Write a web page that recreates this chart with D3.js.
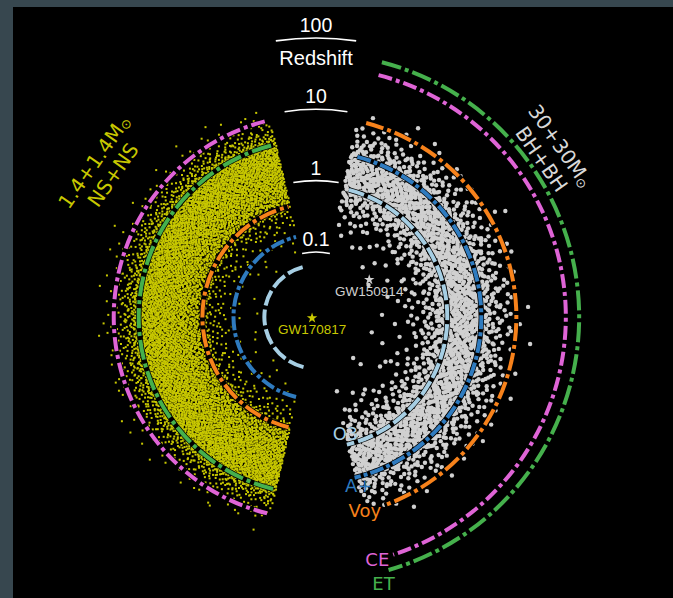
<!DOCTYPE html>
<html>
<head>
<meta charset="utf-8">
<script src="https://cdn.jsdelivr.net/npm/d3@7/dist/d3.min.js"></script>
<style>
  html, body { margin: 0; padding: 0; background: #37474f; }
  svg { display: block; }
</style>
</head>
<body>
<svg id="chart" width="673" height="598"></svg>
<script>
// ---- data -------------------------------------------------------------
// radial axis: redshift ticks
const redshiftTicks = [0.1, 1, 10, 100];
const tickLabels = ["0.1", "1", "10", "100"];

// detector horizons in redshift
const detectors = ["O3", "A+", "Voy", "CE", "ET"];
const horizonBNS = [0.065, 0.176, 0.48, 8.4, 3.75];   // 1.4+1.4 Msun NS+NS
const horizonBBH = [0.85, 2.55, 7.9, 39, 60];         // 30+30 Msun BH+BH

// source populations: redshift bin edges and number of sources per bin
const bnsBinEdges = [0.08, 0.15, 0.25, 0.4, 0.55, 0.8, 1.2, 1.8, 2.6, 3.6, 4.5, 6, 8, 11, 16];
const bnsCounts   = [15, 50, 150, 350, 950, 1400, 1650, 1750, 1500, 700, 420, 190, 70, 25];
const bbhBinEdges = [0.07, 0.15, 0.25, 0.4, 0.6, 0.85, 1.2, 1.7, 2.4, 3.4, 5, 7, 10, 14];
const bbhCounts   = [8, 22, 60, 140, 270, 390, 450, 450, 340, 200, 85, 30, 10];

// detected events
const eventNames = ["GW150914", "GW170817"];
const eventRedshift = [0.1, 0.014];
const eventAzimuth = [55, 255];      // degrees clockwise from the top

// ---- layout & style ---------------------------------------------------
const W = 673, H = 598;
const cx = 316, cy = 317;
const bnsSpan = [193, 347];          // left half (degrees, clockwise from top)
const bbhSpan = [12, 166];           // right half
const arcLeftSpan = [194, 346];
const arcRightStart = 14.5;
const arcRightEnd = [166.4, 166.5, 160, 162, 164];
const labelAzimuth = 165.8;
const labelNudge = [-11, 9, -1, 0, 12];

const detColor = ["#a6cee3", "#2f7bbf", "#f7821b", "#df64d6", "#45b04c"];
const detDash  = ["16,4", "14,3,4,3", "18,4,4,4", "14,4,4,4", "20,4,4,4"];
const yellow = "#c8c800";
const grey = "#d0d0d0";

const sans = "'Liberation Sans', Arial, Helvetica, sans-serif";
const deja = "'DejaVu Sans', sans-serif";

// ---- helpers ------------------------------------------------------------
const rScale = d3.scaleLog().domain([0.1, 100]).range([65, 279]);
const rad = d => d * Math.PI / 180;
const polar = (deg, r) => [r * Math.sin(rad(deg)), -r * Math.cos(rad(deg))];

function arcPath(r, a0, a1) {
  const p = d3.path();
  const [x0, y0] = polar(a0, r);
  p.moveTo(x0, y0);
  p.arc(0, 0, r, rad(a0 - 90), rad(a1 - 90), false);
  return p.toString();
}

// radical-inverse sequence used to spread the dots of each bin evenly
function halton(i, b) {
  let f = 1, x = 0;
  while (i > 0) { f /= b; x += f * (i % b); i = Math.floor(i / b); }
  return x;
}

// dot-density layout: each bin's sources spread over its annular sector
function dotLayout(edges, counts, span) {
  const total = d3.sum(counts);
  const cum = Array.from(d3.cumsum(counts));
  const pts = [];
  for (let i = 1; i <= total; i++) {
    const u = halton(i, 2), t = halton(i, 3) * total;
    let k = d3.bisectRight(cum, t);
    if (k >= counts.length) k = counts.length - 1;
    const start = k > 0 ? cum[k - 1] : 0;
    const f = Math.min(1, (t - start) / counts[k]);
    const r0 = rScale(edges[k]), r1 = rScale(edges[k + 1]);
    const r = Math.sqrt(r0 * r0 + f * (r1 * r1 - r0 * r0));
    pts.push(polar(span[0] + u * (span[1] - span[0]), r));
  }
  return pts;
}

// ---- drawing ------------------------------------------------------------
const svg = d3.select("#chart");
svg.append("rect")
  .attr("x", 13).attr("y", 7)
  .attr("width", W - 13).attr("height", H - 7)
  .attr("fill", "#000");

const g = svg.append("g").attr("transform", `translate(${cx},${cy})`);

// populations
g.append("g").selectAll("rect")
  .data(dotLayout(bnsBinEdges, bnsCounts, bnsSpan))
  .join("rect")
  .attr("x", d => d[0] - 1).attr("y", d => d[1] - 1)
  .attr("width", 2).attr("height", 2)
  .attr("fill", yellow);

g.append("g").selectAll("circle")
  .data(dotLayout(bbhBinEdges, bbhCounts, bbhSpan))
  .join("circle")
  .attr("cx", d => d[0]).attr("cy", d => d[1])
  .attr("r", 2.2)
  .attr("fill", grey);

// detector horizon arcs
const arcs = [];
detectors.forEach((name, i) => {
  arcs.push({ i, d: arcPath(rScale(horizonBNS[i]), arcLeftSpan[0], arcLeftSpan[1]) });
  arcs.push({ i, d: arcPath(rScale(horizonBBH[i]), arcRightStart, arcRightEnd[i]) });
});
const arcG = g.append("g").attr("fill", "none");
arcG.selectAll("path.under").data(arcs).join("path")
  .attr("class", "under")
  .attr("d", d => d.d)
  .attr("stroke", "#000").attr("stroke-width", 5.5);
arcG.selectAll("path.det").data(arcs).join("path")
  .attr("class", "det")
  .attr("d", d => d.d)
  .attr("stroke", d => detColor[d.i])
  .attr("stroke-width", 4)
  .attr("stroke-dasharray", d => detDash[d.i]);

// detector names at the lower end of the right-hand arcs
g.append("g").selectAll("text")
  .data(detectors)
  .join("text")
  .attr("transform", (d, i) => {
    const [x, y] = polar(labelAzimuth, rScale(horizonBBH[i]) + labelNudge[i]);
    return `translate(${x},${y})`;
  })
  .attr("text-anchor", "middle")
  .attr("dy", "0.36em")
  .attr("font-family", deja)
  .attr("font-size", 18)
  .attr("fill", (d, i) => detColor[i])
  .text(d => d);

// redshift ticks in the gap between the halves
const tickG = g.append("g");
redshiftTicks.forEach((z, i) => {
  const r = rScale(z);
  const half = (6 + 0.123 * r) / r * 180 / Math.PI;
  tickG.append("path")
    .attr("d", arcPath(r, -half, half))
    .attr("fill", "none").attr("stroke", "#fff").attr("stroke-width", 1.6);
  tickG.append("text")
    .attr("x", 0).attr("y", -r - 6)
    .attr("text-anchor", "middle")
    .attr("font-family", sans).attr("font-size", 19.5)
    .attr("fill", "#fff")
    .text(tickLabels[i]);
});
tickG.append("text")
  .attr("x", 0).attr("y", -rScale(100) + 27)
  .attr("text-anchor", "middle")
  .attr("font-family", sans).attr("font-size", 20)
  .attr("fill", "#fff")
  .text("Redshift");

// population titles, written along the circle
function title(az, rMid, lines, color) {
  const [x, y] = polar(az, rMid);
  const t = g.append("g")
    .attr("transform", `translate(${x},${y}) rotate(${az > 180 ? az - 360 : az})`)
    .attr("font-family", deja).attr("font-size", 20)
    .attr("fill", color).attr("text-anchor", "middle");
  const l1 = t.append("text").attr("y", -11.5).attr("dy", "0.36em");
  l1.append("tspan").text(lines[0]);
  l1.append("tspan").attr("font-size", 13).attr("dy", 2).text("\u2299");
  t.append("text").attr("y", 11.5).attr("dy", "0.36em").text(lines[1]);
}
title(305, 259.5, ["1.4+1.4M", "NS+NS"], yellow);
title(55, 287, ["30+30M", "BH+BH"], "#d8d8d8");

// events
const star = d3.symbol(d3.symbolStar, 34)();
eventNames.forEach((name, i) => {
  const [x, y] = polar(eventAzimuth[i], rScale(eventRedshift[i]));
  const c = i === 0 ? grey : yellow;
  g.append("path").attr("d", star).attr("transform", `translate(${x},${y})`).attr("fill", c);
  g.append("text")
    .attr("x", x).attr("y", y + 16)
    .attr("text-anchor", "middle")
    .attr("font-family", sans).attr("font-size", 13.5)
    .attr("fill", c)
    .text(name);
});
</script>
</body>
</html>
